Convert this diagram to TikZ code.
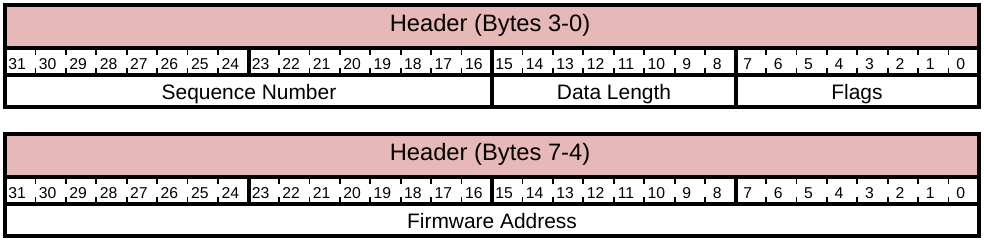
\documentclass[tikz,border=0pt]{standalone}
\usepackage{fontspec}
\setmainfont{Liberation Sans}
\definecolor{headpink}{HTML}{E6B8B7}
\tikzset{
    rowline/.style={line width=3pt},
    bittick/.style={line width=1.3pt},
    bitnum/.style={font=\fontsize{11.8}{12}\selectfont, inner sep=0pt, anchor=base},
    fieldtext/.style={font=\fontsize{15.7}{17}\selectfont, inner sep=0pt, anchor=base},
    headtext/.style={font=\fontsize{17.8}{19}\selectfont, inner sep=0pt, anchor=base}
}
\begin{document}
\begin{tikzpicture}[x=0.75pt, y=-0.75pt]
            \useasboundingbox (0,0) rectangle (984,244);
            \foreach \off/\blk/\bytes in {0/a/3-0, 129/b/7-4} {
                \fill[headpink] (5,5+\off) rectangle (979,47.5+\off);
                \draw[rowline] (5,5+\off) rectangle (979,107+\off);
                \draw[rowline] (5,47.5+\off) -- (979,47.5+\off);
                \draw[rowline] (5,75+\off) -- (979,75+\off);
                \foreach \k in {8,16,24}
                    \draw[rowline] ({5+\k*30.4375},47.5+\off) -- ({5+\k*30.4375},75+\off);
                \foreach \byte in {0,...,3}
                    \foreach \i in {1,...,7} {
                        \draw[bittick] ({5+(8*\byte+\i)*30.4375},49+\off) -- ++(0,6);
                        \draw[bittick] ({5+(8*\byte+\i)*30.4375},68+\off) -- ++(0,5.5);
                    }
                \node[headtext] (head-\blk) at (490,31.7+\off) {Header (Bytes \bytes)};
                \foreach \k in {0,...,31} {
                    \pgfmathtruncatemacro{\bit}{31-\k}
                    \node[bitnum] (bit-\blk-\bit) at ({5+(\k+0.5)*30.4375-3},69+\off) {\bit};
                }
            }
            \draw[rowline] ({5+16*30.4375},75) -- ({5+16*30.4375},107);
            \draw[rowline] ({5+24*30.4375},75) -- ({5+24*30.4375},107);
            \node[fieldtext] (seqnum) at (249,99) {Sequence Number};
            \node[fieldtext] (datalen) at (614,99) {Data Length};
            \node[fieldtext] (flags) at (857,99) {Flags};
            \node[fieldtext] (fwaddr) at (492,228) {Firmware Address};
        \end{tikzpicture}
\end{document}
